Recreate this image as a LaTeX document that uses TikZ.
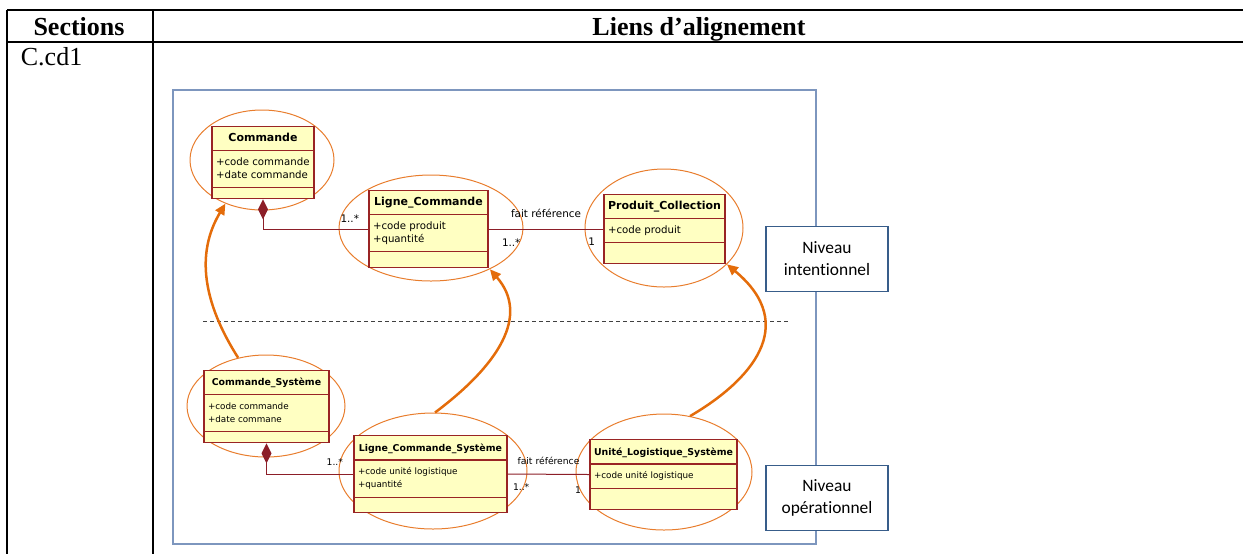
\documentclass[tikz,border=0pt]{standalone}
\usepackage{fontspec}
\setmainfont{Liberation Serif}
\newfontfamily\umlfont{DejaVu Sans}
\newfontfamily\notefont[Ligatures=NoCommon]{Carlito}
\usepackage{tikz}
\usetikzlibrary{positioning, shapes.multipart, shapes.geometric, arrows.meta}
\definecolor{ClassFill}{RGB}{255, 255, 194}
\definecolor{ClassLine}{RGB}{153, 36, 36}
\definecolor{AssocLine}{RGB}{140, 30, 40}
\definecolor{ZoneOrange}{RGB}{232, 125, 45}
\definecolor{LinkOrange}{RGB}{228, 108, 10}
\definecolor{FrameBlue}{RGB}{125, 150, 190}
\definecolor{NoteBlue}{RGB}{56, 93, 138}

% class compartments: name, attributes, empty operations
\newcommand{\cname}[2]{\rule[-4pt]{0pt}{11.5pt}{\fontsize{#1}{#1}\selectfont\bfseries #2}}
\newcommand{\attrs}[1]{\rule{0pt}{7pt}#1\rule[-4.5pt]{0pt}{4.5pt}}
\newcommand{\opsgap}[1]{\rule{0pt}{#1}}

\begin{document}
\begin{tikzpicture}[x=0.5pt, y=-0.5pt,
      umlclass/.style={rectangle split, rectangle split parts=3, rectangle split part align={center,left,left},
      draw=ClassLine, fill=ClassFill, line width=0.6pt, inner xsep=2pt, inner ysep=0pt, align=left},
      upper/.style={umlclass, font=\umlfont\fontsize{5.1}{6.5}\selectfont},
      lower/.style={umlclass, font=\umlfont\fontsize{4.4}{6.5}\selectfont},
      zone/.style={ellipse, draw=ZoneOrange, line width=0.5pt, inner sep=0pt},
      assoc/.style={draw=AssocLine, line width=0.5pt},
      composition/.style={assoc, {Diamond[length=10pt, width=5pt, fill=AssocLine]}-},
      trace/.style={draw=LinkOrange, line width=1.25pt, -{Triangle[length=5.5pt, width=5pt]}},
      mult/.style={font=\umlfont\fontsize{5.2}{6}\selectfont, inner sep=0pt},
      multlow/.style={font=\umlfont\fontsize{4.6}{5.5}\selectfont, inner sep=0pt},
      levelbox/.style={draw=NoteBlue, fill=white, line width=0.6pt, minimum width=61pt, minimum height=32.5pt,
      align=center, font=\notefont\fontsize{8.7}{11}\selectfont},
      levelsep/.style={draw=black!75, line width=0.5pt, dash pattern=on 2pt off 1.5pt},
      diagframe/.style={draw=FrameBlue, line width=0.6pt},
      tableline/.style={line width=0.85pt},
      headtext/.style={font=\fontsize{13}{15}\selectfont\bfseries, inner sep=0pt}
    ]
      \useasboundingbox (0,0) rectangle (1243,554);

      % table grid
      \draw[tableline] (7,10) -- (1243,10);
      \draw[tableline] (7,42) -- (1243,42);
      \draw[tableline] (7,10) -- (7,554);
      \draw[tableline] (153,10) -- (153,554);
      \node[headtext, anchor=base] (secHead) at (79,35) {Sections};
      \node[headtext, anchor=base] (linkHead) at (699,35) {Liens d’alignement};
      \node[font=\fontsize{13}{15}\selectfont, inner sep=0pt, anchor=base west] (secName) at (20.5,65.5) {C.cd1};

      \draw[diagframe] (173,90) rectangle (816,544);
      \draw[levelsep] (203,321) -- (790,321);

      % zones
      \node[zone, minimum width=72pt, minimum height=50pt] (cmdE) at (262,160) {};
      \node[zone, minimum width=92pt, minimum height=53pt] (lcE) at (431,228) {};
      \node[zone, minimum width=79pt, minimum height=59pt] (pcE) at (664,228) {};
      \node[zone, minimum width=79pt, minimum height=51pt] (csE) at (266,406) {};
      \node[zone, minimum width=94pt, minimum height=58pt] (lcsE) at (433,471) {};
      \node[zone, minimum width=88pt, minimum height=58pt] (ulsE) at (664,472) {};

      % intentional level
      \node[upper, minimum width=51pt] (cmd) at (263,162.5)
        {\cname{5.5}{Commande}\nodepart{second}\attrs{+code commande\\+date commande}\nodepart{third}\opsgap{5pt}};
      \node[upper, minimum width=59.5pt] (lc) at (428.5,229)
        {\cname{5.5}{Ligne\_Commande}\nodepart{second}\attrs{+code produit\\+quantité}\nodepart{third}\opsgap{7.5pt}};
      \node[upper, minimum width=60.5pt] (pc) at (664.5,229)
        {\cname{5.5}{Produit\_Collection}\nodepart{second}\attrs{+code produit}\nodepart{third}\opsgap{10pt}};

      % operational level
      \node[lower, minimum width=62.5pt] (cs) at (266.5,406.5)
        {\cname{4.7}{Commande\_Système}\nodepart{second}\attrs{+code commande\\+date commane}\nodepart{third}\opsgap{5pt}};
      \node[lower, minimum width=76.5pt] (lcs) at (430.5,474)
        {\cname{4.7}{Ligne\_Commande\_Système}\nodepart{second}\attrs{+code unité logistique\\+quantité}\nodepart{third}\opsgap{7pt}};
      \node[lower, minimum width=73.5pt] (uls) at (663.5,474.5)
        {\cname{4.7}{Unité\_Logistique\_Système}\nodepart{second}\attrs{+code unité logistique}\nodepart{third}\opsgap{10pt}};

      \draw[composition] (cmd.south) |- (lc.west);
      \draw[assoc] (lc.east) -- node[mult, midway, above=5.5pt] {fait référence} (pc.west);
      \node[mult, above left=3pt and 4.5pt of lc.west] (mCmd) {1..*};
      \node[mult, below right=4.5pt and 6.5pt of lc.east] (mLc) {1..*};
      \node[mult, below left=4.5pt and 4pt of pc.west] (mPc) {1};

      \draw[composition] (cs.south) |- (lcs.west);
      \draw[assoc] (lcs.east) -- node[multlow, midway, above=4.5pt] {fait référence} (uls.west);
      \node[multlow, above left=4pt and 5pt of lcs.west] (mCs) {1..*};
      \node[multlow, below right=4.5pt and 2.5pt of lcs.east] (mLcs) {1..*};
      \node[multlow, below left=6pt and 4pt of uls.west] (mUls) {1};

      % alignment links
      \draw[trace] (csE.120) .. controls +(-35,-55) and +(-30,50) .. (cmdE.230);
      \draw[trace] (lcsE.88) .. controls +(64,-48) and +(40,46) .. (lcE.-35);
      \draw[trace] (ulsE.65) .. controls +(60,-35) and +(73.5,61) .. (pcE.-30);

      \node[levelbox] (nivInt) at (827,259) {Niveau\\intentionnel};
      \node[levelbox] (nivOp) at (827,498) {Niveau\\opérationnel};
    \end{tikzpicture}
\end{document}
